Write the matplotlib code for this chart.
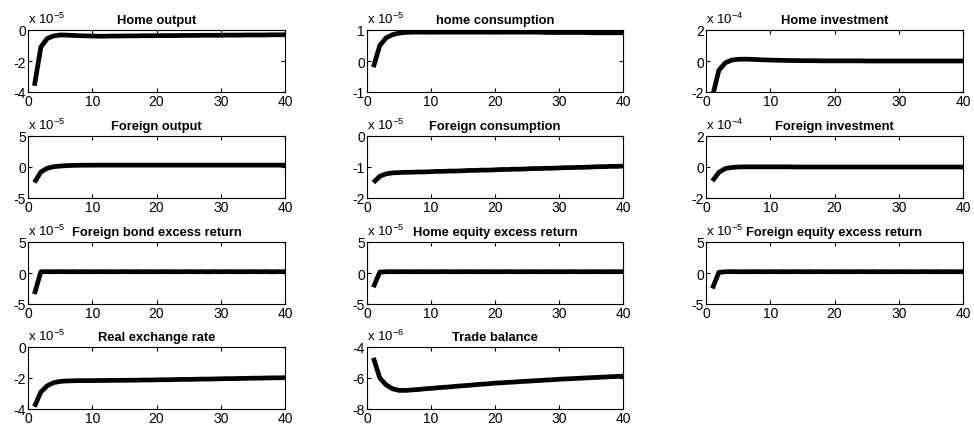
import matplotlib
matplotlib.use("Agg")
import matplotlib.pyplot as plt

plt.rcParams['font.family'] = ['Liberation Sans', 'DejaVu Sans']
plt.rcParams['mathtext.fontset'] = 'custom'
plt.rcParams['mathtext.rm'] = 'Liberation Sans'

periods = list(range(1, 41))

titles = [
    "Home output", "home consumption", "Home investment",
    "Foreign output", "Foreign consumption", "Foreign investment",
    "Foreign bond excess return", "Home equity excess return", "Foreign equity excess return",
    "Real exchange rate", "Trade balance",
]

# impulse responses, in units of the scale shown above each panel
home_output = [-3.60, -1.10, -0.55, -0.38, -0.32, -0.33, -0.35, -0.37, -0.38, -0.39,
               -0.40, -0.40, -0.39, -0.39, -0.38, -0.38, -0.38, -0.37, -0.37, -0.37,
               -0.36, -0.36, -0.36, -0.35, -0.35, -0.35, -0.34, -0.34, -0.34, -0.34,
               -0.33, -0.33, -0.33, -0.32, -0.32, -0.32, -0.32, -0.31, -0.31, -0.31]
home_consumption = [-0.20, 0.50, 0.75, 0.85, 0.90, 0.92, 0.93, 0.93, 0.93, 0.93,
                    0.93, 0.93, 0.93, 0.93, 0.93, 0.93, 0.93, 0.93, 0.93, 0.93,
                    0.93, 0.93, 0.93, 0.93, 0.93, 0.93, 0.93, 0.92, 0.92, 0.92,
                    0.92, 0.92, 0.92, 0.92, 0.91, 0.91, 0.91, 0.91, 0.91, 0.91]
home_investment = [-2.30, -0.60, -0.12, 0.06, 0.11, 0.12, 0.11, 0.09, 0.07, 0.06,
                   0.05, 0.04, 0.03, 0.03, 0.02, 0.02, 0.02, 0.01, 0.01, 0.01,
                   0.01, 0.01, 0.01, 0.01, 0.00, 0.00, 0.00, 0.00, 0.00, 0.00,
                   0.00, 0.00, 0.00, 0.00, 0.00, 0.00, 0.00, 0.00, 0.00, 0.00]
foreign_output = [-2.50, -0.80, -0.20, 0.05, 0.15, 0.22, 0.26, 0.28, 0.29, 0.30,
                  0.30, 0.30, 0.30, 0.30, 0.30, 0.30, 0.30, 0.30, 0.30, 0.30,
                  0.30, 0.30, 0.30, 0.30, 0.30, 0.30, 0.30, 0.30, 0.30, 0.30,
                  0.30, 0.30, 0.30, 0.30, 0.30, 0.30, 0.30, 0.30, 0.30, 0.30]
foreign_consumption = [-1.50, -1.30, -1.22, -1.19, -1.18, -1.17, -1.17, -1.16, -1.16, -1.15,
                       -1.14, -1.14, -1.13, -1.13, -1.12, -1.11, -1.11, -1.10, -1.10, -1.09,
                       -1.08, -1.08, -1.07, -1.07, -1.06, -1.05, -1.05, -1.04, -1.04, -1.03,
                       -1.02, -1.02, -1.01, -1.01, -1.00, -0.99, -0.99, -0.98, -0.98, -0.97]
foreign_investment = [-0.90, -0.35, -0.10, -0.03, 0.00, 0.01, 0.01, 0.01, 0.01, 0.01,
                      0.01, 0.01, 0.01, 0.00, 0.00, 0.00, 0.00, 0.00, 0.00, 0.00,
                      0.00, 0.00, 0.00, 0.00, 0.00, 0.00, 0.00, 0.00, 0.00, 0.00,
                      0.00, 0.00, 0.00, 0.00, 0.00, 0.00, 0.00, 0.00, 0.00, 0.00]
foreign_bond_excess = [-3.40, 0.20, 0.22, 0.20, 0.22, 0.20, 0.22, 0.20, 0.22, 0.20,
                       0.22, 0.20, 0.22, 0.20, 0.22, 0.20, 0.22, 0.20, 0.22, 0.20,
                       0.22, 0.20, 0.22, 0.20, 0.22, 0.20, 0.22, 0.20, 0.22, 0.20,
                       0.22, 0.20, 0.22, 0.20, 0.22, 0.20, 0.22, 0.20, 0.22, 0.20]
home_equity_excess = [-2.30, 0.15, 0.20, 0.22, 0.20, 0.22, 0.20, 0.22, 0.20, 0.22,
                      0.20, 0.22, 0.20, 0.22, 0.20, 0.22, 0.20, 0.22, 0.20, 0.22,
                      0.20, 0.22, 0.20, 0.22, 0.20, 0.22, 0.20, 0.22, 0.20, 0.22,
                      0.20, 0.22, 0.20, 0.22, 0.20, 0.22, 0.20, 0.22, 0.20, 0.22]
foreign_equity_excess = [-2.50, 0.10, 0.20, 0.22, 0.20, 0.22, 0.20, 0.22, 0.20, 0.22,
                         0.20, 0.22, 0.20, 0.22, 0.20, 0.22, 0.20, 0.22, 0.20, 0.22,
                         0.20, 0.22, 0.20, 0.22, 0.20, 0.22, 0.20, 0.22, 0.20, 0.22,
                         0.20, 0.22, 0.20, 0.22, 0.20, 0.22, 0.20, 0.22, 0.20, 0.22]
real_exchange_rate = [-3.85, -2.90, -2.50, -2.30, -2.22, -2.19, -2.18, -2.17, -2.17, -2.17,
                      -2.16, -2.16, -2.15, -2.15, -2.15, -2.14, -2.14, -2.13, -2.13, -2.12,
                      -2.11, -2.11, -2.10, -2.09, -2.09, -2.08, -2.07, -2.07, -2.06, -2.05,
                      -2.04, -2.04, -2.03, -2.02, -2.01, -2.01, -2.00, -1.99, -1.99, -1.98]
trade_balance = [-4.70, -6.00, -6.45, -6.70, -6.80, -6.80, -6.77, -6.74, -6.70, -6.67,
                 -6.63, -6.60, -6.57, -6.53, -6.50, -6.47, -6.43, -6.40, -6.37, -6.33,
                 -6.31, -6.28, -6.26, -6.23, -6.21, -6.18, -6.16, -6.13, -6.11, -6.08,
                 -6.06, -6.04, -6.02, -6.00, -5.98, -5.96, -5.94, -5.92, -5.90, -5.88]

series = [home_output, home_consumption, home_investment,
          foreign_output, foreign_consumption, foreign_investment,
          foreign_bond_excess, home_equity_excess, foreign_equity_excess,
          real_exchange_rate, trade_balance]

y_limits = [(-4, 0), (-1, 1), (-2, 2),
            (-5, 5), (-2, 0), (-2, 2),
            (-5, 5), (-5, 5), (-5, 5),
            (-4, 0), (-8, -4)]
exponents = [-5, -5, -4, -5, -5, -4, -5, -5, -5, -5, -6]
x_ticks = [0, 10, 20, 30, 40]

W, H = 974, 435
col_px = [(28, 285), (367, 623), (706, 963)]
row_px = [(31, 93), (137, 199), (243, 305), (348, 410)]

fig = plt.figure(figsize=(W / 100, H / 100), dpi=100)
fig.patch.set_facecolor('white')

for i, (title, ys) in enumerate(zip(titles, series)):
    r, c = divmod(i, 3)
    x0, x1 = col_px[c]
    y0, y1 = row_px[r]
    ax = fig.add_axes([x0 / W, 1 - y1 / H, (x1 - x0) / W, (y1 - y0) / H])
    ax.plot(periods, ys, color='black', linewidth=3.4, solid_capstyle='butt',
            solid_joinstyle='round')
    lo, hi = y_limits[i]
    ax.set_xlim(0, 40)
    ax.set_ylim(lo, hi)
    ax.set_xticks(x_ticks)
    ax.set_yticks([lo, (lo + hi) / 2, hi])
    ax.set_xticklabels([str(t) for t in x_ticks])
    ax.set_yticklabels([str(int(v)) for v in [lo, (lo + hi) / 2, hi]])
    ax.tick_params(direction='in', top=True, right=True, length=3, width=0.8,
                   labelsize=10, pad=1.5, colors='black')
    for s in ax.spines.values():
        s.set_linewidth(0.8)
        s.set_color('black')
    ax.set_title(title, fontsize=9.3, fontweight='bold', pad=5)
    ax.text(0.0, 1.06, r'x 10$^{\mathdefault{%d}}$' % exponents[i],
            transform=ax.transAxes, fontsize=9.5, ha='left', va='bottom')

fig.savefig('out.png', dpi=100, facecolor='white')
